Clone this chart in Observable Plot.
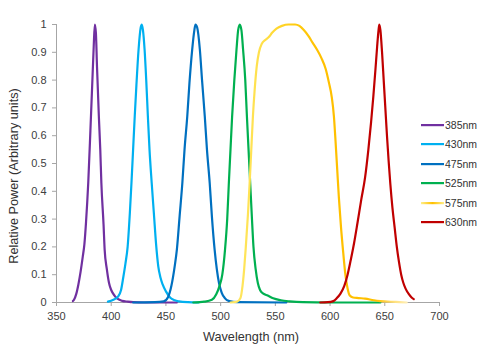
<!DOCTYPE html>
<html><head><meta charset="utf-8">
<script src="https://cdn.jsdelivr.net/npm/d3@7"></script>
<script src="https://cdn.jsdelivr.net/npm/@observablehq/plot@0.6"></script>
<style>
body{margin:0;background:#fff;}
#wrap{position:relative;width:485px;height:350px;font-family:"Liberation Sans",Arial,sans-serif;color:#333;}
#wrap svg.plot{position:absolute;left:0;top:0;}
.ytitle{position:absolute;left:14px;top:176px;transform:translate(-50%,-50%) rotate(-90deg);font-size:12.7px;white-space:nowrap;}
.xtitle{position:absolute;left:251px;top:337px;transform:translate(-50%,-50%);font-size:12.7px;white-space:nowrap;}
#legend{position:absolute;left:421px;top:115px;font-size:10.5px;}
#legend .row{display:flex;align-items:center;height:19.5px;}
#legend svg{display:block;margin-right:1px;}
</style>
</head><body>
<div id="wrap"></div>
<script>
// ---- data ----
const seriesNames = ["385nm","430nm","475nm","525nm","575nm","630nm"];
const seriesColors = ["#7030A0","#00B0F0","#0070C0","#00B050","url(#yellowGrad)","#C00000"];

const wl385 = [365,366,368,370,372,374,375.5,377,379,381,383,384,385,386,387,388.7,390,391,393,394,396,398,400,403,406,410,415,420,430,460];
const p385  = [0.005,0.01,0.03,0.065,0.11,0.165,0.21,0.29,0.43,0.62,0.82,0.92,1.0,0.97,0.85,0.67,0.55,0.43,0.28,0.19,0.12,0.07,0.045,0.025,0.013,0.006,0.003,0.001,0,0];

const wl430 = [397,402,406,409,411,413,415,417,418.5,420,421.5,423,425,427,428,429,430.5,432,433.5,435,437,439,441,443,445,447,450,454,458,462,470,480];
const p430  = [0.003,0.01,0.02,0.045,0.09,0.14,0.2,0.32,0.43,0.55,0.67,0.78,0.91,0.99,1.0,0.98,0.91,0.8,0.67,0.55,0.43,0.32,0.21,0.13,0.09,0.065,0.04,0.017,0.008,0.004,0.001,0];

const wl475 = [420,440,448,452,455,458,460,462.5,465,467,469.5,471.5,474,476,477,478.5,481,483,485.5,487.5,490,492,494.5,496.5,498.5,501,504,508,515,560];
const p475  = [0,0.001,0.004,0.02,0.06,0.13,0.19,0.31,0.43,0.55,0.67,0.79,0.91,0.98,1.0,0.99,0.91,0.8,0.67,0.55,0.43,0.31,0.19,0.12,0.07,0.035,0.015,0.005,0.001,0];

const wl525 = [475,485,492,496,499,501.5,504,506,507.5,509,510.5,512.5,514.5,516,517.5,519,520.5,522.5,524,525.5,527,528.5,530,532,534,536,539,543,548,555,563,575,600,646];
const p525  = [0,0.003,0.01,0.03,0.06,0.1,0.19,0.3,0.43,0.55,0.67,0.8,0.91,0.98,1.0,0.98,0.91,0.8,0.67,0.55,0.43,0.31,0.2,0.12,0.07,0.045,0.032,0.025,0.015,0.008,0.004,0.001,0,0];

const wl575 = [509,515,518,520,521.5,523,525,526.5,528,529.5,531,533,535,537.5,541,544,547,551,556,562,568,572,576,580,584,588,592,596,599,601.5,603.5,605,606.5,608,610,612,614,616,618,621,626,632,640,646,660,670];
const p575  = [0,0.003,0.015,0.06,0.12,0.2,0.32,0.43,0.55,0.67,0.76,0.85,0.9,0.93,0.945,0.955,0.97,0.985,0.995,1.0,1.0,0.995,0.98,0.96,0.935,0.91,0.88,0.84,0.79,0.74,0.67,0.58,0.48,0.38,0.27,0.18,0.1,0.05,0.025,0.018,0.016,0.014,0.008,0.005,0.002,0];

const wl630 = [591,598,603,606,609.5,613,616,619,622,625,628.5,632,635,637.5,639.5,641.5,643,644.3,645,646,647.5,649,650.5,652,653.5,655,657,659,661,663,665,667,669,672,674.5,676.5];
const p630  = [0,0.001,0.005,0.015,0.032,0.06,0.1,0.155,0.215,0.285,0.37,0.45,0.55,0.65,0.74,0.84,0.92,0.98,1.0,0.98,0.9,0.8,0.7,0.6,0.51,0.43,0.34,0.27,0.2,0.145,0.1,0.07,0.05,0.03,0.018,0.012];

const xTicks = [350,400,450,500,550,600,650,700];
const xTickLabels = ["350","400","450","500","550","600","650","700"];
const yTicks = [0,0.1,0.2,0.3,0.4,0.5,0.6,0.7,0.8,0.9,1];
const yTickLabels = ["0","0.1","0.2","0.3","0.4","0.5","0.6","0.7","0.8","0.9","1"];

const xTitle = "Wavelength (nm)";
const yTitle = "Relative Power (Arbitrary units)";

// ---- build ----
const wls = [wl385, wl430, wl475, wl525, wl575, wl630];
const ps = [p385, p430, p475, p525, p575, p630];
const tables = seriesNames.map((name, k) => wls[k].map((w, i) => ({series: name, wl: w, p: ps[k][i]})));

const axisColor = "#a6a6a6";
const chart = Plot.plot({
  width: 485, height: 350,
  marginLeft: 56, marginRight: 46, marginTop: 24, marginBottom: 48,
  style: {fontFamily: "Liberation Sans, Arial, sans-serif", fontSize: "11px", background: "transparent", overflow: "visible"},
  x: {domain: [350, 700]},
  y: {domain: [0, 1]},
  marks: [
    Plot.axisX(xTicks, {tickSize: 4, tickPadding: 6, stroke: axisColor, fill: "#404040", tickFormat: d => xTickLabels[xTicks.indexOf(d)], label: null}),
    Plot.axisY(yTicks, {tickSize: 4, tickPadding: 6, stroke: axisColor, fill: "#404040", tickFormat: d => yTickLabels[yTicks.indexOf(d)], label: null}),
    Plot.ruleY([0], {stroke: axisColor, strokeWidth: 1}),
    Plot.ruleX([350], {stroke: axisColor, strokeWidth: 1}),
    ...tables.map((t, k) => Plot.line(t, {x: "wl", y: "p", stroke: seriesColors[k], strokeWidth: 2.2, curve: "monotone-x"}))
  ]
});
chart.classList.add("plot");

// gradient for the 575nm curve, placed in data space via the x scale
const xs = chart.scale("x");
const ns = "http://www.w3.org/2000/svg";
const defs = document.createElementNS(ns, "defs");
const grad = document.createElementNS(ns, "linearGradient");
grad.setAttribute("id", "yellowGrad");
grad.setAttribute("gradientUnits", "userSpaceOnUse");
grad.setAttribute("x1", xs.apply(509)); grad.setAttribute("x2", xs.apply(675));
grad.setAttribute("y1", 0); grad.setAttribute("y2", 0);
[[0, "#FFE866"], [0.2, "#FFDE45"], [0.35, "#FFCC10"], [0.5, "#FFC000"], [0.8, "#FFC000"], [0.9, "#FFE07A"], [1, "#FFF4CC"]].forEach(([o, c]) => {
  const s = document.createElementNS(ns, "stop");
  s.setAttribute("offset", o); s.setAttribute("stop-color", c);
  grad.appendChild(s);
});
defs.appendChild(grad);
chart.insertBefore(defs, chart.firstChild);

const wrap = document.getElementById("wrap");
wrap.appendChild(chart);

const yt = document.createElement("div"); yt.className = "ytitle"; yt.textContent = yTitle; wrap.appendChild(yt);
const xt = document.createElement("div"); xt.className = "xtitle"; xt.textContent = xTitle; wrap.appendChild(xt);

// legend
const leg = document.createElement("div"); leg.id = "legend";
seriesNames.forEach((name, k) => {
  const row = document.createElement("div"); row.className = "row";
  let stroke = seriesColors[k];
  let extra = "";
  if (stroke.startsWith("url")) {
    extra = '<defs><linearGradient id="legGrad" x1="0" x2="1" y1="0" y2="0"><stop offset="0" stop-color="#FFEE88"/><stop offset="0.5" stop-color="#FFC000"/><stop offset="1" stop-color="#FFEE88"/></linearGradient></defs>';
    stroke = "url(#legGrad)";
  }
  row.innerHTML = `<svg width="23" height="6">${extra}<rect x="0" y="2" width="23" height="2.2" fill="${stroke}"/></svg><span>${name}</span>`;
  leg.appendChild(row);
});
wrap.appendChild(leg);
</script>
</body></html>
